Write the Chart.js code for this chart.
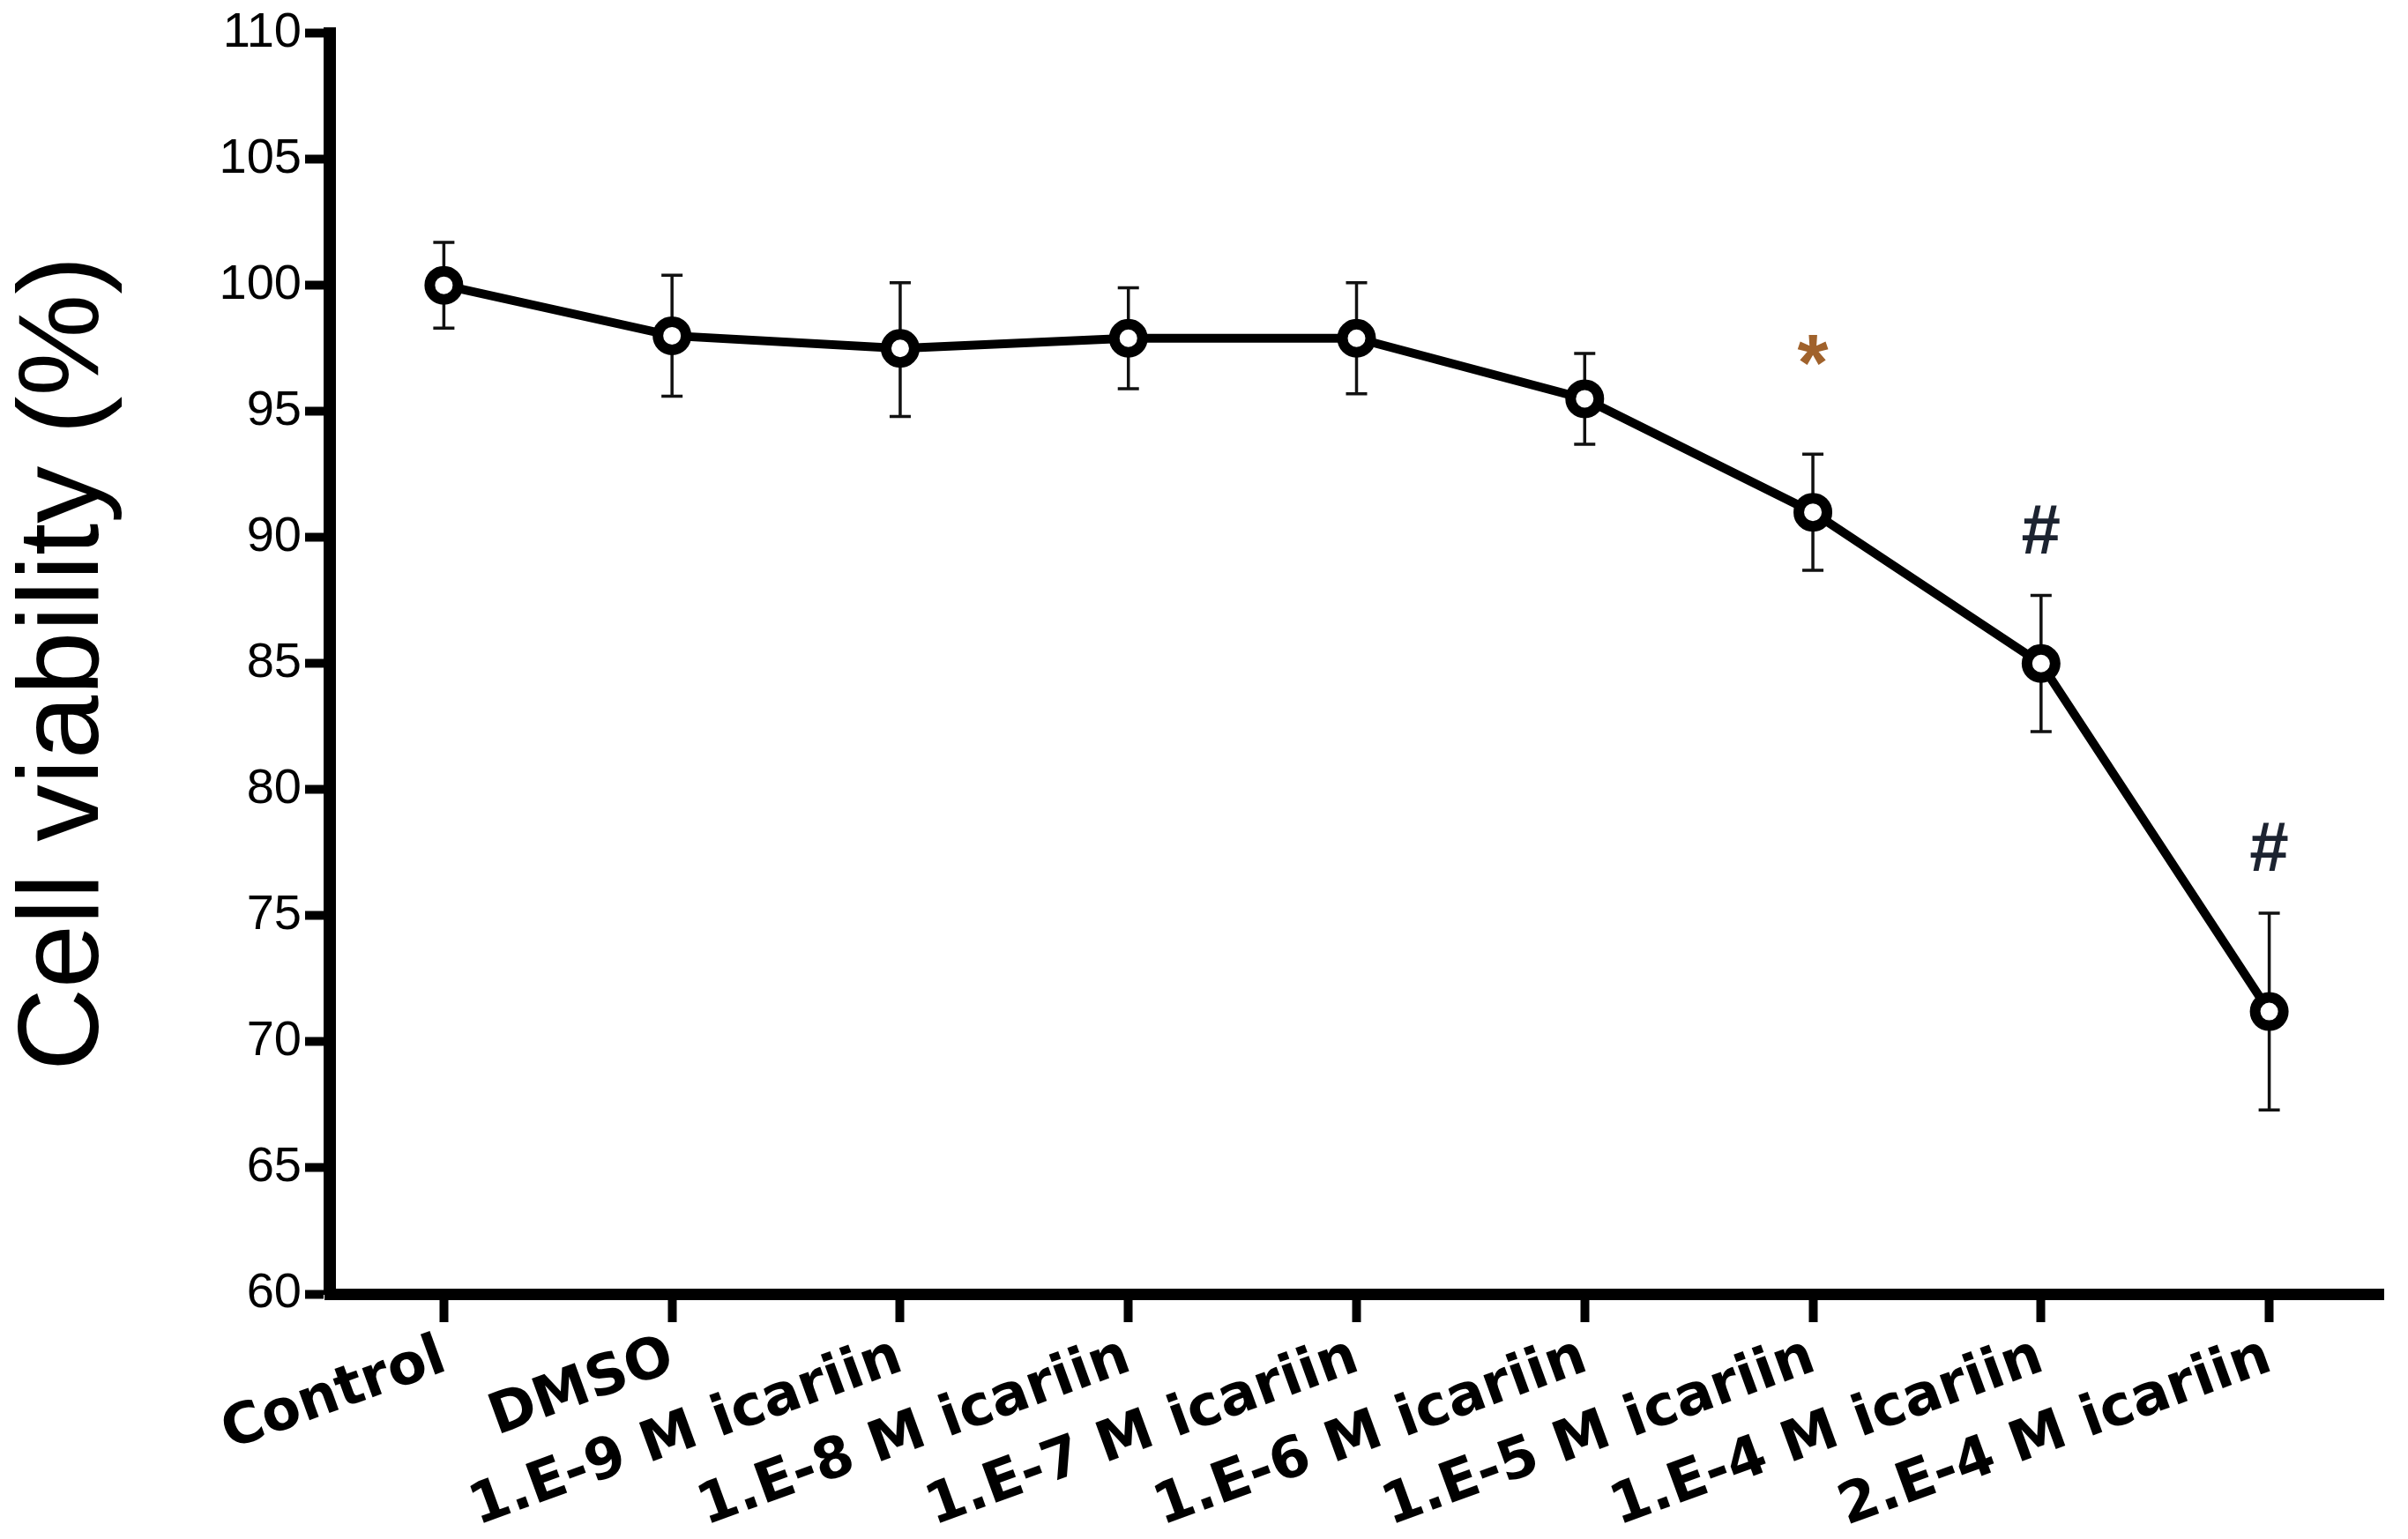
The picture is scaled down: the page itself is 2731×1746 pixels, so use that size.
<!DOCTYPE html>
<html>
<head>
<meta charset="utf-8">
<script src="https://cdn.jsdelivr.net/npm/chart.js@4.4.0/dist/chart.umd.min.js"></script>
<style>
  html, body { margin: 0; padding: 0; background: #fff; }
  #wrap { width: 2731px; height: 1746px; }
</style>
</head>
<body>
<div id="wrap"><canvas id="chart"></canvas></div>
<script>
// data
const groups = ['Control', 'DMSO', '1.E-9 M icariin', '1.E-8 M icariin', '1.E-7 M icariin',
  '1.E-6 M icariin', '1.E-5 M icariin', '1.E-4 M icariin', '2.E-4 M icariin'];
const viability = [100.0, 98.0, 97.5, 97.9, 97.9, 95.5, 91.0, 85.0, 71.2];
const errUp = [1.7, 2.4, 2.6, 2.0, 2.2, 1.8, 2.3, 2.7, 3.9];
const errDown = [1.7, 2.4, 2.7, 2.0, 2.2, 1.8, 2.3, 2.7, 3.9];
const marks = ['', '', '', '', '', '', '*', '#', '#'];
const yMin = 60, yMax = 110, yStep = 5;

const FONT = '"Liberation Sans", Arial, sans-serif';
const LABEL_FONT = '"DejaVu Sans", "Liberation Sans", sans-serif';

// error bars, drawn behind the markers
const errorBars = {
  id: 'errorBars',
  beforeDatasetsDraw(chart) {
    const ctx = chart.ctx;
    const y = chart.scales.y;
    const meta = chart.getDatasetMeta(0);
    ctx.save();
    ctx.strokeStyle = '#111';
    ctx.lineWidth = 3.5;
    meta.data.forEach((pt, i) => {
      const top = y.getPixelForValue(viability[i] + errUp[i]);
      const bot = y.getPixelForValue(viability[i] - errDown[i]);
      ctx.beginPath();
      ctx.moveTo(pt.x, top); ctx.lineTo(pt.x, bot);
      ctx.moveTo(pt.x - 12, top); ctx.lineTo(pt.x + 12, top);
      ctx.moveTo(pt.x - 12, bot); ctx.lineTo(pt.x + 12, bot);
      ctx.stroke();
    });
    ctx.restore();
  }
};

// significance marks above the error bars
const sigMarks = {
  id: 'sigMarks',
  afterDatasetsDraw(chart) {
    const ctx = chart.ctx;
    const y = chart.scales.y;
    const meta = chart.getDatasetMeta(0);
    ctx.save();
    ctx.textAlign = 'center';
    ctx.textBaseline = 'alphabetic';
    meta.data.forEach((pt, i) => {
      if (!marks[i]) return;
      const top = y.getPixelForValue(viability[i] + errUp[i]);
      if (marks[i] === '*') {
        ctx.fillStyle = '#a0622c';
        ctx.font = 'bold 90px ' + FONT;
        ctx.fillText('*', pt.x, top - 72);
      } else {
        ctx.fillStyle = '#1c2330';
        ctx.font = 'bold 80px ' + FONT;
        ctx.fillText('#', pt.x, top - 48);
      }
    });
    ctx.restore();
  }
};

new Chart(document.getElementById('chart'), {
  type: 'line',
  data: {
    labels: groups,
    datasets: [{
      data: viability,
      borderColor: '#000',
      borderWidth: 10,
      pointRadius: 16,
      pointBorderWidth: 12,
      pointBackgroundColor: '#fff',
      pointBorderColor: '#000',
      tension: 0
    }]
  },
  options: {
    responsive: true,
    maintainAspectRatio: false,
    animation: false,
    layout: { padding: { top: 31, right: 0, left: 0, bottom: 0 } },
    plugins: {
      legend: { display: false },
      tooltip: { enabled: false }
    },
    scales: {
      x: {
        type: 'category',
        offset: true,
        afterFit(scale) { scale.height = 278; },
        border: { display: true, color: '#000', width: 13 },
        grid: {
          display: true,
          drawOnChartArea: false,
          drawTicks: true,
          tickLength: 32,
          tickWidth: 10,
          tickColor: '#000',
          offset: false
        },
        ticks: {
          color: '#000',
          font: { family: LABEL_FONT, size: 64, weight: 'bold' },
          maxRotation: 20,
          minRotation: 20,
          autoSkip: false,
          padding: 2
        }
      },
      y: {
        min: yMin,
        max: yMax,
        afterFit(scale) { scale.width = 374; },
        border: { display: true, color: '#000', width: 14 },
        grid: {
          display: true,
          drawOnChartArea: false,
          drawTicks: true,
          tickLength: 28,
          tickWidth: 10,
          tickColor: '#000'
        },
        ticks: {
          stepSize: yStep,
          color: '#000',
          font: { family: FONT, size: 56 },
          padding: 4
        },
        title: {
          display: true,
          text: 'Cell viability (%)',
          color: '#000',
          font: { family: FONT, size: 130, lineHeight: 1.1 },
          padding: { top: 4, bottom: 0 }
        }
      }
    }
  },
  plugins: [errorBars, sigMarks]
});
</script>
</body>
</html>
